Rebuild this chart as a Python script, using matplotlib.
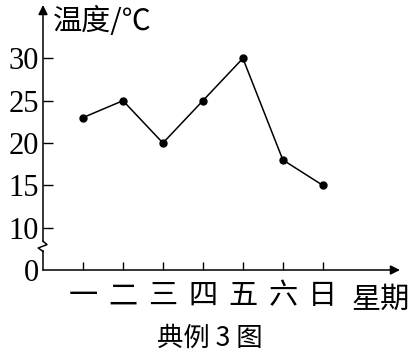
import matplotlib.pyplot as plt

days = ["一", "二", "三", "四", "五", "六", "日"]
temps = [23, 25, 20, 25, 30, 18, 15]
ytick_vals = [5, 10, 15, 20, 25, 30]
ytick_labels = ["0", "10", "15", "20", "25", "30"]

cjk = ["Noto Sans CJK SC", "DejaVu Sans"]
num = ["Liberation Serif", "DejaVu Serif"]

fig = plt.figure(figsize=(4.2, 3.57), dpi=100)
ax = fig.add_axes([43 / 420, 87 / 357, 357 / 420, 265 / 357])

x = list(range(1, len(days) + 1))
ax.plot(x, temps, color="black", lw=1.1, marker="o", ms=5, clip_on=False)

ax.set_xlim(0, 8.93)
ax.set_ylim(5, 36.3)
for s in ax.spines.values():
    s.set_visible(False)

# axes with arrows
ax.annotate("", xy=(8.93, 5), xytext=(0, 5),
            arrowprops=dict(arrowstyle="-|>", color="black", lw=1.1,
                            mutation_scale=14, shrinkA=0, shrinkB=0),
            annotation_clip=False)
ax.plot([0, 0], [5, 7.2], color="black", lw=1.1, clip_on=False)
ax.plot([0, -0.12, 0.1, 0], [7.2, 7.6, 8.0, 8.4], color="black", lw=1.1, clip_on=False)
ax.annotate("", xy=(0, 36.3), xytext=(0, 8.4),
            arrowprops=dict(arrowstyle="-|>", color="black", lw=1.1,
                            mutation_scale=14, shrinkA=0, shrinkB=0),
            annotation_clip=False)

ax.set_xticks(x)
ax.set_xticklabels(days, fontfamily=cjk, fontsize=21)
ax.tick_params(axis="x", direction="in", length=6, width=1, pad=8)
ax.set_yticks(ytick_vals)
ax.set_yticklabels(ytick_labels, fontfamily=num, fontsize=22)
ax.tick_params(axis="y", direction="in", length=7, width=1, pad=3)
ax.yaxis.get_major_ticks()[0].tick1line.set_visible(False)

fig.text(53 / 420, 1 - 22 / 357, "温度/℃", fontfamily=cjk, fontsize=21,
         ha="left", va="center")
fig.text(381 / 420, 1 - 300 / 357, "星期", fontfamily=cjk, fontsize=21,
         ha="center", va="center")
fig.text(210 / 420, 1 - 338 / 357, "典例 3 图", fontfamily=cjk, fontsize=19,
         ha="center", va="center")

fig.savefig("out.png", dpi=100)
